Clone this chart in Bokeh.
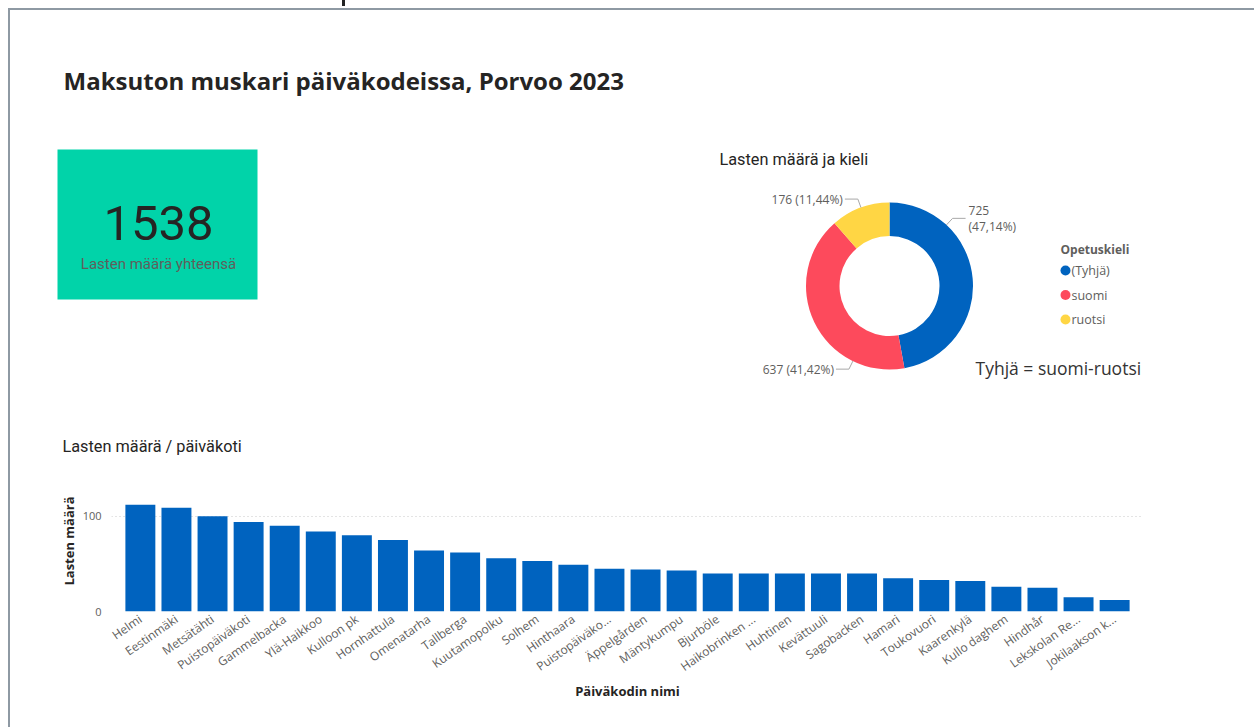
import math
from bokeh.plotting import figure
from bokeh.models import (ColumnDataSource, FactorRange, Range1d, FixedTicker, Label, Spacer)
from bokeh.layouts import row, column
from bokeh.embed import file_html
from bokeh.resources import INLINE

# ---------------- data ----------------
daycares = ["Helmi", "Eestinmäki", "Metsätähti", "Puistopäiväkoti", "Gammelbacka",
            "Ylä-Haikkoo", "Kulloon pk", "Hornhattula", "Omenatarha", "Tallberga",
            "Kuutamopolku", "Solhem", "Hinthaara", "Puistopäiväko...", "Äppelgården",
            "Mäntykumpu", "Bjurböle", "Haikobrinken ...", "Huhtinen", "Kevättuuli",
            "Sagobacken", "Hamari", "Toukovuori", "Kaarenkylä", "Kullo daghem",
            "Hindhår", "Lekskolan Re...", "Jokilaakson k..."]
children = [112, 109, 100, 94, 90, 84, 80, 75, 64, 62, 56, 53, 49, 45, 44, 43,
            40, 40, 40, 40, 40, 35, 33, 32, 26, 25, 15, 12]

languages = ["(Tyhjä)", "suomi", "ruotsi"]
lang_counts = [725, 637, 176]
lang_colors = ["#0063BF", "#FD4A5C", "#FFD644"]

y_ticks = [0, 100]

# ---------------- styles ----------------
FRAME = "#8E99A3"
DARK = "#252423"
GRAY = "#605E5C"
BAR = "#0063BF"
W = 1244          # figure width (page x 10 .. 1254)
H1 = 450          # top canvas  (page y 10 .. 460)
H2 = 267          # bar chart   (page y 460 .. 727)


def fx(px):
    return px


def fy(py):
    return -py


def label(x, y, text, size, color=DARK, font="Open Sans", bold=False, align="left"):
    return Label(x=fx(x), y=fy(y), text=text, text_font=font, text_font_size=size,
                 text_font_style="bold" if bold else "normal", text_color=color,
                 text_align=align, text_baseline="middle")


# ---------------- top canvas: title, card, donut ----------------
p1 = figure(width=W, height=H1, x_range=Range1d(10, 10 + W), y_range=Range1d(-(10 + H1), -10),
            output_backend="svg", toolbar_location=None, min_border=0)
p1.axis.visible = False
p1.grid.visible = False
p1.outline_line_color = None

p1.add_layout(label(63, 80, "Maksuton muskari päiväkodeissa, Porvoo 2023", "24px", bold=True))

# KPI card
p1.quad(left=[fx(57)], right=[fx(257)], top=[fy(149)], bottom=[fy(299)],
        fill_color="#01D3A9", line_color=None)
total = sum(children)
p1.add_layout(label(158, 222, str(total), "49px", font="Roboto", align="center"))
p1.add_layout(label(158, 263, "Lasten määrä yhteensä", "15px", color=GRAY, font="Roboto",
                    align="center"))

# Donut
p1.add_layout(label(719, 159, "Lasten määrä ja kieli", "16.3px", font="Roboto"))
cx, cy = fx(889), fy(285.5)
R_OUT, R_IN = 83.5, 50
tot = sum(lang_counts)
starts, ends = [], []
acc = 0.0
for v in lang_counts:
    starts.append(math.pi / 2 - 2 * math.pi * acc / tot)
    acc += v
    ends.append(math.pi / 2 - 2 * math.pi * acc / tot)
dsrc = ColumnDataSource(dict(lang=languages, n=lang_counts, color=lang_colors,
                             start=starts, end=ends))
p1.annular_wedge(x=cx, y=cy, inner_radius=R_IN, outer_radius=R_OUT, start_angle="start",
                 end_angle="end", direction="clock", color="color", line_color=None,
                 source=dsrc)

# data labels with leader lines
label_angles = [43, 206, 340]  # degrees clockwise from top, where leaders start
for i, (v, ang) in enumerate(zip(lang_counts, label_angles)):
    pct = f"{100 * v / tot:.2f}".replace(".", ",")
    a = math.radians(ang)
    x0, y0 = cx + R_OUT * math.sin(a), cy + R_OUT * math.cos(a)
    x1, y1 = cx + (R_OUT + 9) * math.sin(a), cy + (R_OUT + 9) * math.cos(a)
    side = 1 if math.sin(a) > 0 else -1
    x2 = x1 + side * 13
    p1.line([x0, x1, x2], [y0, y1, y1], line_color="#A8A8A8", line_width=1)
    if side > 0:
        p1.add_layout(Label(x=x2 + 3, y=y1 + 8, text=str(v), text_font="Open Sans",
                            text_font_size="12px", text_color=GRAY, text_baseline="middle"))
        p1.add_layout(Label(x=x2 + 3, y=y1 - 8, text=f"({pct}%)", text_font="Open Sans",
                            text_font_size="12px", text_color=GRAY, text_baseline="middle"))
    else:
        p1.add_layout(Label(x=x2 - 2, y=y1, text=f"{v} ({pct}%)", text_font="Open Sans",
                            text_font_size="12px", text_color=GRAY, text_align="right",
                            text_baseline="middle"))

# legend
p1.add_layout(label(1060, 249, "Opetuskieli", "12px", color=GRAY, bold=True))
lsrc = ColumnDataSource(dict(x=[fx(1065)] * len(languages),
                             y=[fy(270 + 24.5 * i) for i in range(len(languages))],
                             tx=[fx(1071)] * len(languages),
                             ty=[fy(270 + 24.5 * i) for i in range(len(languages))],
                             lang=languages, color=lang_colors))
p1.scatter(x="x", y="y", size=10, color="color", line_color=None, source=lsrc)
p1.text(x="tx", y="ty", text="lang", text_font_size="12.5px", text_color=GRAY,
        text_baseline="middle", source=lsrc, text_font={"value": "Open Sans"})

p1.add_layout(label(975, 367.5, "Tyhjä = suomi-ruotsi", "17.5px", color="#333333"))

p1.add_layout(label(62, 446, "Lasten määrä / päiväkoti", "16.3px", font="Roboto"))

# ---------------- bar chart ----------------
bsrc = ColumnDataSource(dict(name=daycares, n=children))
p2 = figure(width=W, height=H2,
            x_range=FactorRange(*daycares, range_padding=0.3, range_padding_units="absolute"),
            y_range=Range1d(0, 148), output_backend="svg", toolbar_location=None,
            min_border_left=101, min_border_right=111, min_border_top=10, min_border_bottom=116)
p2.vbar(x="name", top="n", width=0.83, color=BAR, line_color=None, source=bsrc)
p2.outline_line_color = None
p2.xgrid.visible = False
p2.ygrid.ticker = FixedTicker(ticks=y_ticks)
p2.ygrid.grid_line_color = "#C8C8C8"
p2.ygrid.grid_line_dash = "1 3"

xa = p2.xaxis[0]
xa.axis_line_color = None
xa.major_tick_line_color = None
xa.minor_tick_line_color = None
xa.major_tick_out = 0
xa.major_tick_in = 0
xa.minor_tick_out = 0
xa.major_label_orientation = 0.61
xa.major_label_standoff = 6
xa.major_label_text_font = "Open Sans"
xa.major_label_text_font_size = "12px"
xa.major_label_text_color = GRAY
xa.axis_label = "Päiväkodin nimi"
xa.axis_label_text_font = "Open Sans"
xa.axis_label_text_font_style = "bold"
xa.axis_label_text_font_size = "13px"
xa.axis_label_text_color = DARK
xa.axis_label_standoff = -3

ya = p2.yaxis[0]
ya.ticker = FixedTicker(ticks=y_ticks)
ya.axis_line_color = None
ya.major_tick_line_color = None
ya.minor_tick_line_color = None
ya.major_tick_out = 0
ya.major_tick_in = 0
ya.minor_tick_out = 0
ya.major_label_standoff = 10
ya.major_label_text_font = "Open Sans"
ya.major_label_text_font_size = "11px"
ya.major_label_text_color = GRAY
ya.axis_label = "Lasten määrä"
ya.axis_label_text_font = "Open Sans"
ya.axis_label_text_font_style = "bold"
ya.axis_label_text_font_size = "13px"
ya.axis_label_text_color = DARK
ya.axis_label_standoff = 2

# ---------------- page frame (report border) ----------------
top_strip = row(Spacer(width=342, height=8),
                Spacer(width=3, height=6, styles={"background-color": "#222222"}),
                Spacer(width=1254 - 345, height=8))
root_a = column(top_strip,
                row(Spacer(width=8, height=H1 + 2),
                    column(Spacer(width=1246, height=2, styles={"background-color": FRAME}),
                           row(Spacer(width=2, height=H1, styles={"background-color": FRAME}),
                               p1))))
root_b = row(Spacer(width=8, height=H2),
             Spacer(width=2, height=H2, styles={"background-color": FRAME}),
             p2)

open("out.html", "w").write(file_html([root_a, root_b], INLINE))
